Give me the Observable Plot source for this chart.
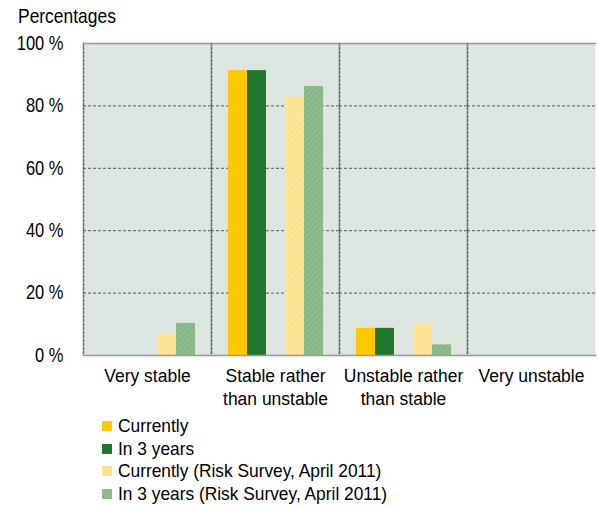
<!DOCTYPE html>
<html>
<head>
<meta charset="utf-8">
<script src="https://cdn.jsdelivr.net/npm/d3@7"></script>
<script src="https://cdn.jsdelivr.net/npm/@observablehq/plot@0.6"></script>
<style>
  html, body { margin: 0; padding: 0; background: #fff; }
  body { width: 598px; height: 507px; overflow: hidden; font-family: "Liberation Sans", Arial, sans-serif; color: #000; }
  .narrow { display: inline-block; transform-origin: 0 50%; white-space: nowrap; }
  .title { font-size: 21px; line-height: 20px; padding-top: 6px; margin-left: 18px; }
  .title .narrow { transform: scaleX(0.83); }
  #chart svg { display: block; }
  .legend { margin-top: 5px; margin-left: 102px; font-size: 17.7px; line-height: 22.6px; }
  .legend .narrow { transform: scaleX(0.98); }
  .legend .row { display: flex; align-items: center; white-space: nowrap; }
  .legend .sw { width: 10px; height: 10px; margin-right: 6px; flex: none; }
</style>
</head>
<body>
<div class="title"><span class="narrow">Percentages</span></div>
<div id="chart"></div>
<div class="legend" id="legend"></div>
<script>
// Answer categories along the x axis
const categories = ["Very stable", "Stable rather than unstable", "Unstable rather than stable", "Very unstable"];
const categoryLabels = ["Very stable", "Stable rather\nthan unstable", "Unstable rather\nthan stable", "Very unstable"];

// Series (survey rounds)
const series = ["Currently", "In 3 years", "Currently (Risk Survey, April 2011)", "In 3 years (Risk Survey, April 2011)"];

// Shares of respondents, % (one value per category)
const currently      = [0, 91.3, 8.7, 0];
const in3Years       = [0, 91.3, 8.7, 0];
const currently2011  = [6.9, 82.8, 10.3, 0];
const in3Years2011   = [10.3, 86.2, 3.4, 0];

// Y axis ticks
const yTicks = [0, 20, 40, 60, 80, 100];

const seriesValues = [currently, in3Years, currently2011, in3Years2011];
const seriesFill = ["#FFC800", "#22772E", "url(#hatch-yellow)", "url(#hatch-green)"];

// Long-format table for the bar mark
const data = [];
categories.forEach((c, i) => {
  series.forEach((s, j) => data.push({category: c, series: s, value: seriesValues[j][i]}));
});

// Slot order inside each category group (empty slot separates the two rounds)
const slots = [series[0], series[1], "", series[2], series[3]];

const chart = Plot.plot({
  width: 598,
  height: 384,
  marginTop: 17,
  marginBottom: 55,
  marginLeft: 83,
  marginRight: 3,
  style: {fontSize: "19px", fontFamily: "'Liberation Sans', Arial, sans-serif", color: "#000", background: "transparent", overflow: "visible"},
  fx: {domain: categories, padding: 0, label: null},
  x: {domain: slots, paddingInner: 0, paddingOuter: 0.765, axis: null},
  y: {domain: [0, 100], label: null},
  color: {domain: series, range: seriesFill},
  marks: [
    Plot.frame({fill: "#DCE5E0"}),
    Plot.gridY([20, 40, 60, 80], {stroke: "#5a5a5a", strokeOpacity: 1, strokeWidth: 1, strokeDasharray: "3,2"}),
    // Dotted dividers between answer categories
    Plot.frame({anchor: "left", stroke: "#666", strokeWidth: 1.5, strokeDasharray: "2,2"}),
    Plot.barY(data, {fx: "category", x: "series", y: "value", fill: "series"}),
    Plot.frame({anchor: "top", stroke: "#999", strokeWidth: 1.5}),
    Plot.frame({anchor: "bottom", stroke: "#999", strokeWidth: 1.5}),
    // Outer left border with the percentage labels
    Plot.axisY(yTicks, {anchor: "left", line: true, stroke: "#444", strokeWidth: 1.2, tickSize: 0, tickPadding: 20,
      fontSize: 19.5, tickFormat: d => `${d} %`, label: null}),
    // Outer right border
    Plot.axisY([], {anchor: "right", line: true, stroke: "#777", strokeWidth: 1.2, tickSize: 0, label: null}),
    Plot.axisFx({anchor: "bottom", tickSize: 0, tickPadding: 10.7, lineHeight: 1.2, fontSize: 19, label: null,
      tickFormat: d => categoryLabels[categories.indexOf(d)]})
  ]
});

// Narrow lettering: squeeze each axis label horizontally about its anchor point
function squeeze(selector, k) {
  chart.querySelectorAll(selector).forEach(t => {
    const tr = t.getAttribute("transform") || "";
    t.setAttribute("transform", `${tr} scale(${k},1)`.trim());
  });
}
squeeze('g[aria-label="y-axis tick label"] text', 0.845);
squeeze('g[aria-label="fx-axis tick label"] text', 0.92);

// Hatch patterns for the 2011 survey bars
const ns = "http://www.w3.org/2000/svg";
const defs = document.createElementNS(ns, "defs");
function hatch(id, base, stripe) {
  const p = document.createElementNS(ns, "pattern");
  p.setAttribute("id", id);
  p.setAttribute("patternUnits", "userSpaceOnUse");
  p.setAttribute("width", 4);
  p.setAttribute("height", 4);
  p.setAttribute("patternTransform", "rotate(45)");
  const r = document.createElementNS(ns, "rect");
  r.setAttribute("width", 4); r.setAttribute("height", 4); r.setAttribute("fill", base);
  const l = document.createElementNS(ns, "rect");
  l.setAttribute("width", 1.5); l.setAttribute("height", 4); l.setAttribute("fill", stripe);
  p.appendChild(r); p.appendChild(l);
  defs.appendChild(p);
}
hatch("hatch-yellow", "#FFDF87", "#FFE7A6");
hatch("hatch-green", "#8EBE8E", "#82B383");
chart.insertBefore(defs, chart.firstChild);
document.getElementById("chart").appendChild(chart);

// Legend below the chart
const swatchCss = [
  "background:#FFC800",
  "background:#22772E",
  "background:repeating-linear-gradient(45deg,#FFDF87 0 2px,#FFE7A6 2px 3px)",
  "background:repeating-linear-gradient(45deg,#8EBE8E 0 2px,#82B383 2px 3px)"
];
const legend = document.getElementById("legend");
series.forEach((s, i) => {
  const row = document.createElement("div");
  row.className = "row";
  row.innerHTML = `<span class="sw" style="${swatchCss[i]}"></span><span class="narrow">${s}</span>`;
  legend.appendChild(row);
});
</script>
</body>
</html>
